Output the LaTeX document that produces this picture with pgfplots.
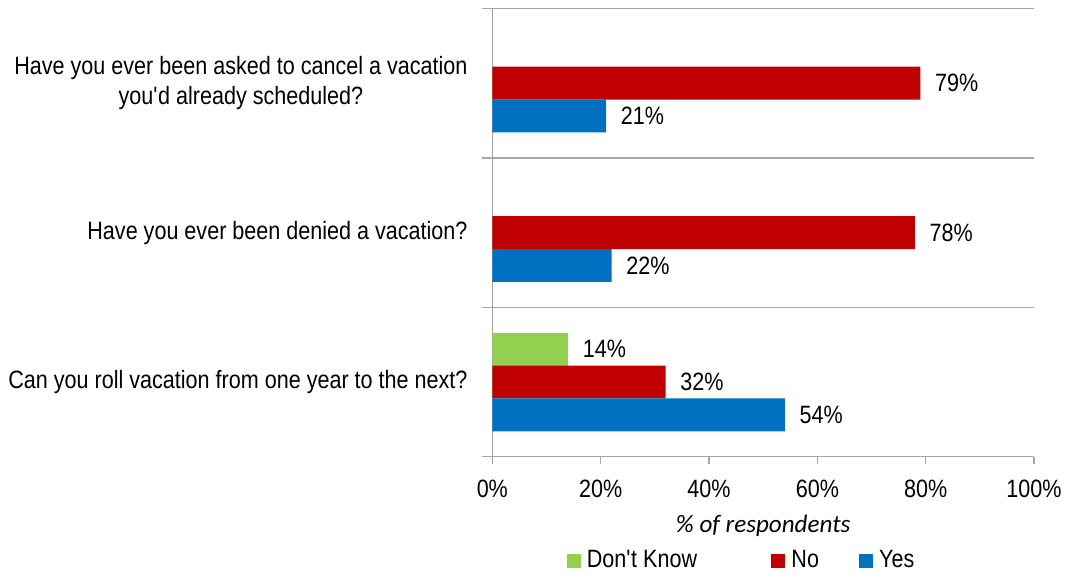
\documentclass[border=0pt]{standalone}
\usepackage{fontspec}
\setmainfont[FakeStretch=0.86]{Liberation Sans}
\newfontfamily\calibri{Carlito}
\usepackage{pgfplots}
\pgfplotsset{compat=1.18}
\definecolor{dkgreen}{HTML}{92D050}
\definecolor{nored}{HTML}{C00000}
\definecolor{yesblue}{HTML}{0070C0}
\definecolor{axisgray}{HTML}{A6A6A6}

\begin{document}
\fontsize{12.5}{15}\selectfont
\begin{tikzpicture}
\begin{axis}[
    scale only axis,
    width=270pt, height=223.5pt,
    xmin=0, xmax=100,
    ymin=-0.5, ymax=2.5,
    xbar, bar width=0.22,
    axis x line=bottom, axis y line=left,
    axis line style={-, draw=axisgray, line width=0.7pt},
    /pgf/number format/assume math mode=true,
    tick label style={font=\fontsize{12.5}{15}\selectfont},
    xtick={0,20,40,60,80,100},
    xticklabels={0\%,20\%,40\%,60\%,80\%,100\%},
    xticklabel style={yshift=-3.5pt},
    x tick style={draw=axisgray, line width=0.7pt},
    tick align=outside,
    major tick length=3.5pt,
    ytick={0,1,2},
    yticklabels={Can you roll vacation from one year to the next?,
                 Have you ever been denied a vacation?,
                 {Have you ever been asked to cancel a vacation\\you\textquotesingle d already scheduled?}},
    y tick style={draw=none},
    yticklabel style={align=center, xshift=-4.5pt},
    extra y ticks={-0.5,0.5,1.5,2.5},
    extra y tick labels={},
    extra y tick style={grid=major, major grid style={draw=axisgray, line width=0.7pt},
        y tick style={draw=axisgray, line width=0.7pt}, major tick length=5pt},
    xlabel={\calibri\itshape\fontsize{12.5}{15}\selectfont \% of respondents},
    xlabel style={yshift=-0.5pt},
    point meta=x,
    nodes near coords={\pgfmathprintnumber{\pgfplotspointmeta}\%},
    nodes near coords align=horizontal,
    every node near coord/.append style={anchor=west, xshift=3pt, black,
        font=\fontsize{12.5}{15}\selectfont},
    legend style={at={(axis description cs:0.462,-0.19)}, anchor=north, draw=none,
        font=\fontsize{12.5}{15}\selectfont, legend columns=3,
        /tikz/every odd column/.append style={column sep=1pt},
        /tikz/every even column/.append style={column sep=18pt}},
    legend image code/.code={\fill[#1] (0pt,-3.5pt) rectangle (7pt,3.5pt);},
]
\addplot[fill=dkgreen, draw=none, bar shift=0.22] coordinates {(14,0)};
\addlegendentry{\makebox[72pt][l]{Don\textquotesingle t Know}}
\addplot[fill=nored, draw=none, bar shift=0] coordinates {(32,0) (78,1) (79,2)};
\addlegendentry{No}
\addplot[fill=yesblue, draw=none, bar shift=-0.22] coordinates {(54,0) (22,1) (21,2)};
\addlegendentry{Yes}
\end{axis}
\end{tikzpicture}
\end{document}
